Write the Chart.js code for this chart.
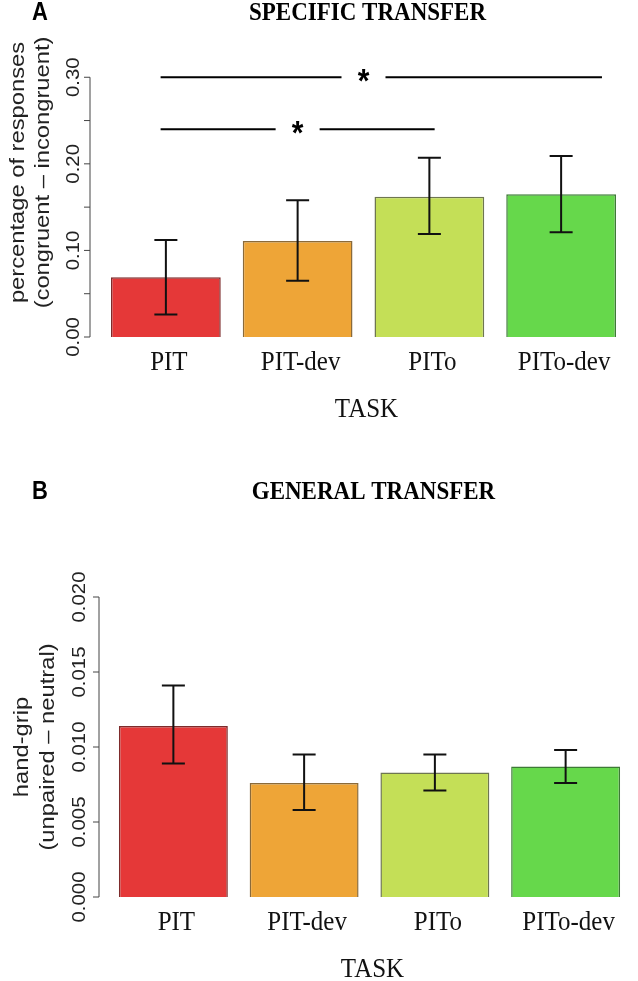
<!DOCTYPE html>
<html>
<head>
<meta charset="utf-8">
<script src="https://cdn.jsdelivr.net/npm/chart.js@4.4.1/dist/chart.umd.min.js"></script>
<style>
  body { margin: 0; background: #fff; }
  #panelA { position: absolute; left: 0; top: 0; width: 638px; height: 450px; }
  #panelB { position: absolute; left: 0; top: 450px; width: 638px; height: 531px; }
</style>
</head>
<body>
<div id="panelA"><canvas id="chartA"></canvas></div>
<div id="panelB"><canvas id="chartB"></canvas></div>
<script>
// categories and colours shared by both panels
const tasks = ['PIT', 'PIT-dev', 'PITo', 'PITo-dev'];
const barColors = ['#E53838', '#EEA537', '#C4DF57', '#66D84B'];
const barBorders = ['#7d2b2b', '#8a6a3a', '#6e7650', '#3d7a36'];

// panel A: specific transfer
const specificMean = [0.069, 0.111, 0.162, 0.165];
const specificLow = [0.026, 0.065, 0.119, 0.121];
const specificHigh = [0.112, 0.158, 0.207, 0.209];
const specificTicks = [0, 0.05, 0.10, 0.15, 0.20, 0.25, 0.30];
const specificTickLabels = ['0.00', '', '0.10', '', '0.20', '', '0.30'];
// significance brackets (category index from/to, star position, y value)
const specificBrackets = [
    { from: -0.04, to: 3.31, star: 1.5, y: 0.30 },
    { from: -0.04, to: 2.04, star: 1.0, y: 0.24 }
];

// panel B: general transfer
const generalMean = [0.0114, 0.0076, 0.0083, 0.0087];
const generalLow = [0.0089, 0.0058, 0.0071, 0.0076];
const generalHigh = [0.0141, 0.0095, 0.0095, 0.0098];
const generalTicks = [0, 0.005, 0.010, 0.015, 0.020];
const generalTickLabels = ['0.000', '0.005', '0.010', '0.015', '0.020'];

const SERIF = '"Liberation Serif", "DejaVu Serif", serif';
const SANS = '"Liberation Sans", Arial, sans-serif';
// the original figure is stretched a little vertically
const STRETCH = 1.13;

function drawText(ctx, text, x, y, rotated) {
    ctx.save();
    ctx.translate(x, y);
    ctx.scale(1, STRETCH);
    if (rotated) ctx.rotate(-Math.PI / 2);
    ctx.fillText(text, 0, 0);
    ctx.restore();
}

// draws the R-style pieces: error bars, offset y axis, rotated ticks, titles, labels
function rStylePlugin(cfg) {
    return {
        id: 'rStyle',
        afterDatasetsDraw(chart) {
            const ctx = chart.ctx;
            const area = chart.chartArea;
            const xs = chart.scales.x;
            const ys = chart.scales.y;
            ctx.save();

            // error bars
            const meta = chart.getDatasetMeta(0);
            ctx.strokeStyle = '#111';
            ctx.lineWidth = 2;
            meta.data.forEach((bar, i) => {
                const yl = ys.getPixelForValue(cfg.low[i]);
                const yh = ys.getPixelForValue(cfg.high[i]);
                ctx.beginPath();
                ctx.moveTo(bar.x, yl); ctx.lineTo(bar.x, yh);
                ctx.moveTo(bar.x - 11.5, yl); ctx.lineTo(bar.x + 11.5, yl);
                ctx.moveTo(bar.x - 11.5, yh); ctx.lineTo(bar.x + 11.5, yh);
                ctx.stroke();
            });

            // y axis line and ticks
            const ax = area.left - cfg.axisGap;
            const first = ys.getPixelForValue(cfg.ticks[0]);
            const last = ys.getPixelForValue(cfg.ticks[cfg.ticks.length - 1]);
            ctx.strokeStyle = '#444';
            ctx.lineWidth = 1;
            ctx.beginPath();
            ctx.moveTo(ax, first); ctx.lineTo(ax, last);
            cfg.ticks.forEach(t => {
                const py = ys.getPixelForValue(t);
                ctx.moveTo(ax - 6, py); ctx.lineTo(ax, py);
            });
            ctx.stroke();

            // rotated tick labels
            ctx.fillStyle = '#222';
            ctx.font = '18px ' + SANS;
            ctx.textAlign = 'center';
            ctx.textBaseline = 'middle';
            cfg.ticks.forEach((t, i) => {
                if (!cfg.tickLabels[i]) return;
                drawText(ctx, cfg.tickLabels[i], ax - cfg.labelGap, ys.getPixelForValue(t), true);
            });

            // y axis title (two lines)
            ctx.font = '21px ' + SANS;
            const midY = (area.top + area.bottom) / 2;
            cfg.yTitle.forEach((line, i) => {
                drawText(ctx, line, cfg.yTitleX[i], midY, true);
            });

            // category labels and x title
            ctx.fillStyle = '#111';
            ctx.font = '25px ' + SERIF;
            tasks.forEach((t, i) => {
                drawText(ctx, t, xs.getPixelForValue(i) + 3, area.bottom + 26, false);
            });
            const midX = (area.left + area.right) / 2;
            drawText(ctx, 'TASK', midX + 3, area.bottom + 73, false);

            // panel title and letter
            ctx.fillStyle = '#000';
            ctx.font = 'bold 23px ' + SERIF;
            drawText(ctx, cfg.title, midX + 4, cfg.titleY, false);
            ctx.font = 'bold 22px ' + SANS;
            drawText(ctx, cfg.letter, 40, cfg.titleY, false);

            // significance brackets
            (cfg.brackets || []).forEach(b => {
                const py = ys.getPixelForValue(b.y);
                const step = xs.getPixelForValue(1) - xs.getPixelForValue(0);
                const x0 = xs.getPixelForValue(0) + b.from * step;
                const x1 = xs.getPixelForValue(0) + b.to * step;
                const sx = xs.getPixelForValue(0) + b.star * step;
                ctx.strokeStyle = '#000';
                ctx.lineWidth = 2;
                ctx.beginPath();
                ctx.moveTo(x0, py); ctx.lineTo(sx - 22, py);
                ctx.moveTo(sx + 22, py); ctx.lineTo(x1, py);
                ctx.stroke();
                ctx.font = 'bold 30px ' + SANS;
                drawText(ctx, '*', sx, py + 5, false);
            });

            ctx.restore();
        }
    };
}

function makeChart(id, values, yMax, padding, cfg) {
    return new Chart(document.getElementById(id), {
        type: 'bar',
        data: {
            labels: tasks,
            datasets: [{
                data: values,
                backgroundColor: barColors,
                borderColor: barBorders,
                borderWidth: 1.5,
                categoryPercentage: 1,
                barPercentage: 0.833
            }]
        },
        options: {
            responsive: true,
            maintainAspectRatio: false,
            animation: false,
            layout: { padding: padding },
            plugins: {
                legend: { display: false },
                tooltip: { enabled: false }
            },
            scales: {
                x: { display: false },
                y: { display: false, min: 0, max: yMax }
            }
        },
        plugins: [rStylePlugin(cfg)]
    });
}

makeChart('chartA', specificMean, 0.38, { left: 100, right: 11, top: 8, bottom: 113 }, {
    low: specificLow,
    high: specificHigh,
    ticks: specificTicks,
    tickLabels: specificTickLabels,
    axisGap: 10,
    labelGap: 16,
    yTitle: ['percentage of responses', '(congruent \u2013 incongruent)'],
    yTitleX: [18, 43],
    title: 'SPECIFIC TRANSFER',
    titleY: 13,
    letter: 'A',
    brackets: specificBrackets
});

makeChart('chartB', generalMean, 0.020, { left: 108, right: 7, top: 147, bottom: 84 }, {
    low: generalLow,
    high: generalHigh,
    ticks: generalTicks,
    tickLabels: generalTickLabels,
    axisGap: 9,
    labelGap: 19,
    yTitle: ['hand-grip', '(unpaired \u2013 neutral)'],
    yTitleX: [22, 48],
    title: 'GENERAL TRANSFER',
    titleY: 42,
    letter: 'B'
});
</script>
</body>
</html>
